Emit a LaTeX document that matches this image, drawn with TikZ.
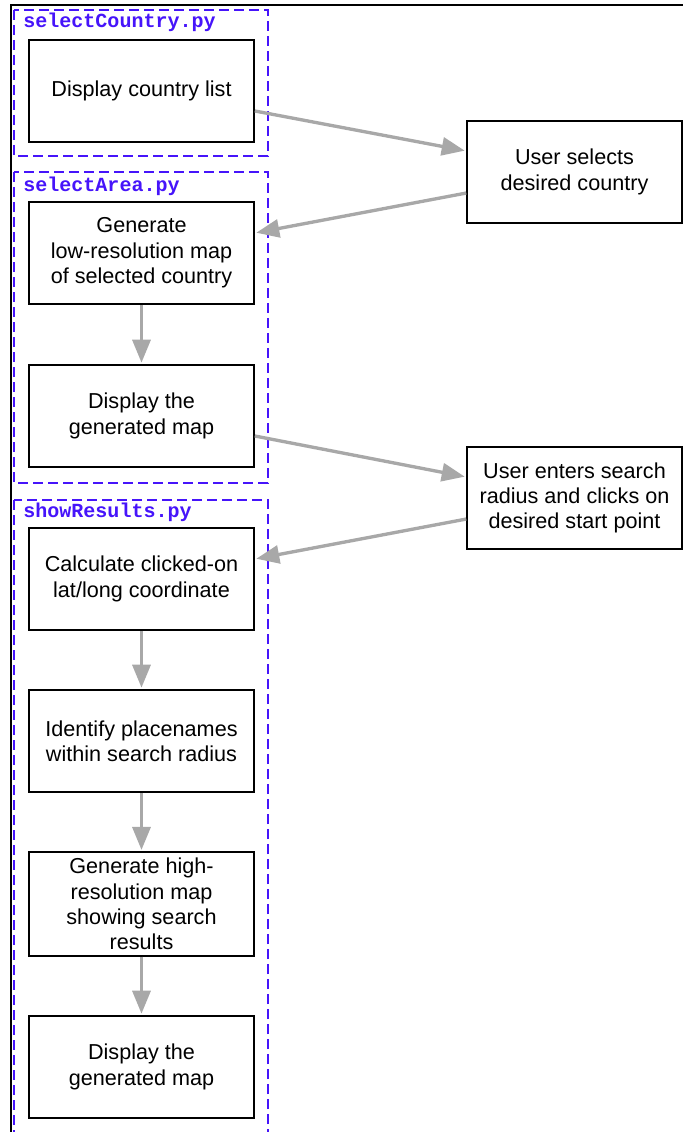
\documentclass[tikz,border=0pt]{standalone}
\usepackage{fontspec}
\setmainfont{Liberation Sans}
\setmonofont{Liberation Mono}
\usetikzlibrary{arrows.meta}
\definecolor{pyblue}{RGB}{70,20,250}
\definecolor{flowgray}{RGB}{168,168,168}

\begin{document}
\begin{tikzpicture}[
  step box/.style={draw,line width=0.9pt,minimum width=4.5cm,minimum height=2.04cm,align=center,font=\fontsize{12.3}{14.4}\selectfont},
  user box/.style={step box,minimum width=4.3cm},
  module/.style={draw=pyblue,line width=0.9pt,dash pattern=on 0.2cm off 0.1cm},
  modname/.style={anchor=base west,inner sep=0pt,text=pyblue,font=\ttfamily\bfseries\fontsize{11.4}{13}\selectfont},
  flow/.style={draw=flowgray,line width=1.9pt,-{Triangle[length=0.46cm,width=0.36cm]},shorten >=0.03cm}
]
\clip (0,0) rectangle (13.66,-22.64);
\draw[line width=0.6pt] (13.9,-0.1) -| (0.22,-22.9);

% modules
\draw[module] (0.28,-0.2) rectangle (5.36,-3.12);
\draw[module] (0.28,-3.44) rectangle (5.36,-9.66);
\draw[module] (0.28,-10.0) rectangle (5.36,-23.0);
\node[modname] (mcountry) at (0.46,-0.56) {selectCountry.py};
\node[modname] (marea) at (0.46,-3.84) {selectArea.py};
\node[modname] (mresults) at (0.46,-10.34) {showResults.py};

\node[step box] (list) at (2.83,-1.82) {Display country list};
\node[step box] (lowres) at (2.83,-5.06) {Generate\\low-resolution map\\of selected country};
\node[step box] (show1) at (2.83,-8.32) {Display the\\generated map};
\node[step box] (calc) at (2.83,-11.58) {Calculate clicked-on\\lat/long coordinate};
\node[step box] (ident) at (2.83,-14.82) {Identify placenames\\within search radius};
\node[step box] (hires) at (2.83,-18.08) {Generate high-\\resolution map\\showing search\\results};
\node[step box] (show2) at (2.83,-21.34) {Display the\\generated map};

\node[user box] (country) at (11.49,-3.44) {User selects\\desired country};
\node[user box] (point) at (11.49,-9.96) {User enters search\\radius and clicks on\\desired start point};

\draw[flow] (list.-10.6) -- (country.169);
\draw[flow] (country.191) -- (lowres.10.6);
\draw[flow] (lowres) -- (show1);
\draw[flow] (show1.-10.6) -- (point.169);
\draw[flow] (point.191) -- (calc.10.6);
\draw[flow] (calc) -- (ident);
\draw[flow] (ident) -- (hires);
\draw[flow] (hires) -- (show2);
\end{tikzpicture}
\end{document}
